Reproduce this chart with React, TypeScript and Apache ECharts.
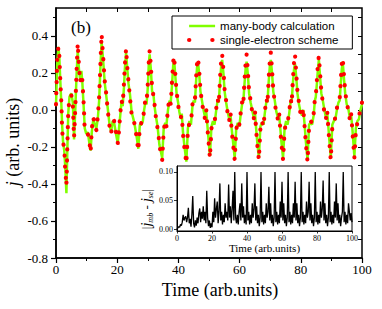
import React, { useEffect, useRef } from "react";
import * as echarts from "echarts";

// ---- main panel: time samples and current j ----
const tMain = [
  0, 0.4, 0.8, 1.1, 1.4, 1.7, 2.0, 2.3, 2.7, 3.0, 3.4, 3.7, 4.0, 4.4, 5.0, 5.5, 5.9, 6.3, 6.7, 7.1,
  7.5, 7.9, 8.3, 8.6, 9.0, 9.4, 9.9, 10.4, 10.9, 11.3, 11.7, 12.2, 12.7, 13.2, 13.7, 14.1, 14.5, 14.9,
  15.4, 15.9, 16.4, 16.9, 17.5, 18.0, 18.5, 19.0, 19.6, 20.2, 20.6, 21.0, 21.4, 21.8, 22.2, 22.5, 22.9,
  23.3, 23.7, 24.2, 24.7, 25.3, 25.8, 26.4, 26.9, 27.4, 27.9, 28.4, 28.8, 29.2, 29.6, 30.0, 30.3, 30.6,
  31.0, 31.4, 31.8, 32.2, 32.7, 33.2, 33.8, 34.2, 34.7, 35.2, 35.7, 36.1, 36.6, 37.1, 37.5, 37.9, 38.3, 38.6,
  39.0, 39.4, 39.9, 40.3, 40.8, 41.1, 41.5, 42.0, 42.6, 43.1, 43.6, 44.1, 44.6, 45.0, 45.4, 45.8, 46.1, 46.4,
  46.8, 47.2, 47.7, 48.2, 48.7, 49.1, 49.5, 49.9, 50.3, 50.8, 51.3, 51.8, 52.3, 52.8, 53.2, 53.6, 54.0, 54.3,
  54.7, 55.1, 55.6, 56.1, 56.6, 57.0, 57.4, 57.9, 58.4, 58.9, 59.4, 59.9, 60.4, 60.9, 61.2, 61.6, 62.0, 62.3,
  62.7, 63.1, 63.6, 64.1, 64.6, 65.0, 65.4, 65.8, 66.3, 66.8, 67.3, 67.8, 68.3, 68.8, 69.1, 69.5, 69.9, 70.2,
  70.6, 71.0, 71.5, 72.0, 72.5, 72.9, 73.3, 73.7, 74.2, 74.7, 75.2, 75.7, 76.2, 76.7, 77.0, 77.4, 77.8, 78.1,
  78.5, 78.9, 79.4, 79.9, 80.4, 80.8, 81.2, 81.7, 82.2, 82.7, 83.2, 83.7, 84.2, 84.6, 84.9, 85.3, 85.6, 85.9,
  86.3, 86.7, 87.2, 87.7, 88.2, 88.6, 89.0, 89.4, 89.8, 90.3, 90.8, 91.3, 91.8, 92.3, 92.7, 93.1, 93.4, 93.7,
  94.1, 94.5, 95.0, 95.5, 96.0, 96.4, 96.8, 97.2, 97.5, 98.0, 98.5, 99.0, 99.5, 100,
];

const jManyBody = [
  0.02, 0.25, 0.34, 0.28, 0.16, 0.05, -0.08, -0.17, -0.22, -0.30, -0.45, -0.22, -0.02, 0.07, 0.09, 0.04, -0.16, 0.0, 0.18, 0.32,
  0.22, 0.16, 0.21, 0.15, 0.03, -0.10, -0.13, -0.12, -0.18, -0.22, -0.12, -0.05, -0.08, -0.10, -0.04, 0.05, 0.22, 0.37,
  0.27, 0.15, 0.08, 0.01, -0.08, -0.12, -0.06, -0.07, -0.13, -0.18, -0.10, -0.03, 0.04, 0.02, 0.12, 0.22, 0.31,
  0.22, 0.14, 0.08, -0.01, -0.05, -0.09, -0.15, -0.21, -0.08, -0.08, -0.06, 0.0, 0.04, 0.03, 0.12, 0.24, 0.30,
  0.22, 0.10, 0.09, 0.02, -0.04, -0.09, -0.19, -0.22, -0.26, -0.10, -0.07, -0.08, 0.0, 0.05, 0.04, 0.13, 0.24, 0.27,
  0.18, 0.09, 0.04, -0.01, -0.05, -0.02, -0.12, -0.20, -0.28, -0.10, -0.06, -0.08, 0.02, 0.05, 0.04, 0.16, 0.23, 0.26,
  0.19, 0.10, 0.05, 0.0, -0.04, -0.01, -0.09, -0.17, -0.25, -0.09, -0.06, -0.08, -0.01, 0.05, 0.04, 0.15, 0.24, 0.27,
  0.20, 0.10, 0.04, -0.01, -0.05, -0.02, -0.10, -0.18, -0.26, -0.10, -0.07, -0.09, -0.02, 0.04, 0.04, 0.14, 0.23, 0.26,
  0.19, 0.09, 0.04, 0.0, -0.04, -0.01, -0.10, -0.18, -0.26, -0.09, -0.07, -0.08, -0.01, 0.05, 0.04, 0.15, 0.24, 0.27,
  0.20, 0.10, 0.05, -0.01, -0.04, -0.02, -0.10, -0.18, -0.26, -0.10, -0.06, -0.08, -0.02, 0.05, 0.04, 0.14, 0.22, 0.25,
  0.18, 0.09, 0.03, -0.01, -0.03, 0.0, -0.07, -0.18, -0.27, -0.08, -0.07, -0.08, -0.03, 0.05, 0.07, 0.15, 0.22, 0.27,
  0.18, 0.09, 0.05, 0.0, -0.04, -0.01, -0.09, -0.18, -0.26, -0.08, -0.06, -0.05, 0.0, 0.04, 0.05, 0.15, 0.22, 0.26,
  0.17, 0.09, 0.03, 0.01, -0.04, -0.02, -0.09, -0.18, -0.25, -0.10, -0.06, -0.05, 0.0, 0.03,
];

const jSingleElectron = [
  0.03, 0.27, 0.34, 0.29, 0.16, 0.06, -0.10, -0.18, -0.20, -0.32, -0.41, -0.20, -0.01, 0.06, 0.08, 0.03, -0.15, 0.01, 0.20, 0.36,
  0.24, 0.15, 0.19, 0.16, 0.05, -0.11, -0.12, -0.13, -0.17, -0.23, -0.10, -0.04, -0.09, -0.11, -0.03, 0.07, 0.24, 0.41,
  0.29, 0.16, 0.09, 0.0, -0.09, -0.13, -0.07, -0.06, -0.12, -0.18, -0.11, -0.02, 0.05, 0.03, 0.14, 0.24, 0.33,
  0.23, 0.15, 0.06, -0.02, -0.06, -0.08, -0.16, -0.22, -0.09, -0.07, -0.07, 0.01, 0.05, 0.04, 0.14, 0.25, 0.32,
  0.24, 0.12, 0.08, 0.03, -0.05, -0.10, -0.18, -0.24, -0.27, -0.11, -0.06, -0.09, 0.01, 0.06, 0.03, 0.15, 0.26, 0.29,
  0.19, 0.10, 0.03, -0.02, -0.04, -0.03, -0.13, -0.21, -0.29, -0.11, -0.07, -0.07, 0.03, 0.06, 0.05, 0.18, 0.25, 0.28,
  0.21, 0.11, 0.04, -0.01, -0.05, 0.0, -0.10, -0.18, -0.26, -0.10, -0.07, -0.07, 0.0, 0.06, 0.03, 0.17, 0.27, 0.30,
  0.22, 0.11, 0.05, -0.02, -0.06, -0.01, -0.11, -0.19, -0.27, -0.11, -0.06, -0.08, -0.01, 0.05, 0.03, 0.16, 0.26, 0.30,
  0.21, 0.10, 0.05, -0.01, -0.05, 0.0, -0.11, -0.19, -0.27, -0.10, -0.06, -0.09, 0.0, 0.06, 0.03, 0.17, 0.27, 0.31,
  0.22, 0.11, 0.04, -0.02, -0.05, -0.01, -0.11, -0.19, -0.27, -0.11, -0.07, -0.07, -0.01, 0.06, 0.03, 0.16, 0.26, 0.30,
  0.20, 0.10, 0.04, -0.02, -0.04, 0.01, -0.08, -0.19, -0.28, -0.09, -0.06, -0.07, -0.02, 0.06, 0.08, 0.17, 0.25, 0.29,
  0.20, 0.10, 0.04, -0.01, -0.05, 0.0, -0.10, -0.19, -0.27, -0.09, -0.07, -0.04, 0.01, 0.05, 0.06, 0.17, 0.25, 0.28,
  0.19, 0.10, 0.04, 0.0, -0.05, -0.01, -0.10, -0.19, -0.26, -0.11, -0.07, -0.04, 0.01, 0.04,
];

// ---- inset: |j_mb - j_se|, sampled every 0.5 time units from 0 to 100 ----
const insetStep = 0.5;
const jDiff = [
  0.000, 0.002, 0.004, 0.003, 0.008, 0.006, 0.012, 0.025, 0.015, 0.020,
  0.022, 0.012, 0.020, 0.037, 0.010, 0.018, 0.004, 0.025, 0.058, 0.010,
  0.003, 0.015, 0.006, 0.020, 0.010, 0.028, 0.036, 0.012, 0.030, 0.018,
  0.040, 0.015, 0.030, 0.010, 0.067, 0.020, 0.005, 0.015, 0.002, 0.010,
  0.003, 0.030, 0.012, 0.054, 0.020, 0.035, 0.048, 0.010, 0.030, 0.080,
  0.015, 0.030, 0.008, 0.025, 0.012, 0.045, 0.020, 0.030, 0.015, 0.078,
  0.020, 0.040, 0.010, 0.035, 0.067, 0.015, 0.100, 0.020, 0.010, 0.025,
  0.008, 0.030, 0.045, 0.015, 0.080, 0.020, 0.040, 0.010, 0.025, 0.008,
  0.100, 0.015, 0.030, 0.008, 0.025, 0.010, 0.045, 0.020, 0.035, 0.080,
  0.015, 0.040, 0.010, 0.025, 0.005, 0.020, 0.100, 0.012, 0.030, 0.008,
  0.025, 0.010, 0.045, 0.020, 0.030, 0.074, 0.015, 0.045, 0.010, 0.025,
  0.005, 0.020, 0.100, 0.012, 0.030, 0.008, 0.025, 0.010, 0.048, 0.020,
  0.083, 0.015, 0.045, 0.010, 0.025, 0.005, 0.020, 0.100, 0.012, 0.030,
  0.008, 0.025, 0.010, 0.045, 0.020, 0.083, 0.015, 0.045, 0.010, 0.025,
  0.005, 0.020, 0.100, 0.012, 0.030, 0.008, 0.025, 0.010, 0.048, 0.020,
  0.030, 0.083, 0.015, 0.045, 0.010, 0.025, 0.005, 0.020, 0.100, 0.012,
  0.030, 0.008, 0.025, 0.010, 0.048, 0.020, 0.035, 0.085, 0.015, 0.045,
  0.010, 0.025, 0.005, 0.020, 0.100, 0.012, 0.030, 0.008, 0.025, 0.010,
  0.048, 0.020, 0.080, 0.015, 0.045, 0.010, 0.025, 0.005, 0.020, 0.030,
  0.100, 0.012, 0.030, 0.008, 0.025, 0.010, 0.045, 0.030, 0.015, 0.028,
  0.012,
];

// ---- tick values ----
const xMainTicks = [0, 20, 40, 60, 80, 100];
const xTopTicks = [10, 20, 30, 40, 50, 60, 70, 80, 90];
const yMainTicks = [-0.8, -0.6, -0.4, -0.2, 0.0, 0.2, 0.4];
const yMinorTicks = [-0.7, -0.5, -0.3, -0.1, 0.1, 0.3, 0.5];
const yRightTicks = [-0.7, -0.6, -0.5, -0.4, -0.3, -0.2, -0.1, 0.0, 0.1, 0.2, 0.3, 0.4, 0.5];
const xInsetTicks = [0, 20, 40, 60, 80, 100];
const yInsetTicks = [0.0, 0.05, 0.1];

const seriesNames = ["many-body calculation", "single-electron scheme"];

const SERIF = '"Liberation Serif", "Times New Roman", serif';
const SANS = '"Liberation Sans", Arial, sans-serif';

export default function App() {
  const ref = useRef<HTMLDivElement>(null);

  useEffect(() => {
    document.body.style.margin = "0";
    if (!ref.current) return;
    const chart = echarts.init(ref.current, undefined, { renderer: "svg" });

    const black = "#000";
    const green = "#80ff00";
    const red = "#ff0000";
    const redDots = { color: red, width: 4.2, type: [0.1, 11], cap: "round" };
    const mainData = tMain.map((t, i) => [t, jManyBody[i]]);
    const seData = tMain.map((t, i) => [t, jSingleElectron[i]]);
    const diffData = jDiff.map((v, i) => [i * insetStep, v]);

    chart.setOption({
      animation: false,
      backgroundColor: "#fff",
      grid: [
        {
          left: 56, top: 8, width: 306, height: 250,
          show: true, borderColor: black, borderWidth: 1.5, backgroundColor: "transparent",
        },
        {
          left: 177, top: 166, width: 175, height: 65,
          show: true, borderColor: black, borderWidth: 1, backgroundColor: "#fff", z: 10,
        },
      ],
      legend: {
        data: [
          { name: seriesNames[0], lineStyle: { color: green, width: 2.5 } },
          { name: seriesNames[1], lineStyle: { color: red, width: 4.2, type: [0.2, 23], cap: "round" } },
        ],
        orient: "vertical",
        left: 172,
        top: 16,
        padding: [4, 14, 3, 15],
        itemWidth: 26,
        itemHeight: 12,
        itemGap: 2,
        borderColor: black,
        borderWidth: 1,
        borderRadius: 0,
        backgroundColor: "#fff",
        itemStyle: { opacity: 0 },
        textStyle: { fontFamily: SANS, fontSize: 11.5, color: black },
      },
      xAxis: [
        {
          gridIndex: 0, type: "value", position: "bottom", min: 0, max: 100, interval: 20,
          axisLine: { show: true, onZero: false, lineStyle: { color: black, width: 1.5 } },
          axisTick: { show: true, inside: false, length: 5, lineStyle: { color: black, width: 1.2 } },
          minorTick: { show: true, splitNumber: 2, length: 3, lineStyle: { color: black, width: 1 } },
          axisLabel: {
            customValues: xMainTicks, fontFamily: SERIF, fontSize: 13, color: black, margin: 5,
          },
          splitLine: { show: false },
          name: "Time (arb.units)", nameLocation: "middle", nameGap: 14,
          nameTextStyle: { fontFamily: SERIF, fontSize: 18, color: black, padding: [0, 0, 0, 22] },
        },
        {
          gridIndex: 0, type: "value", position: "top", min: 0, max: 100,
          axisLine: { show: false, onZero: false },
          axisTick: { show: true, inside: true, length: 4, customValues: xTopTicks, lineStyle: { color: black, width: 1 } },
          axisLabel: { show: false },
          splitLine: { show: false },
        },
        {
          gridIndex: 1, type: "value", position: "bottom", min: 0, max: 100, interval: 20, z: 11,
          axisLine: { show: true, onZero: false, lineStyle: { color: black, width: 1 } },
          axisTick: { show: true, inside: false, length: 2.5, customValues: xInsetTicks, lineStyle: { color: black, width: 0.8 } },
          axisLabel: { customValues: xInsetTicks, fontFamily: SERIF, fontSize: 8, color: black, margin: 3 },
          splitLine: { show: false },
          name: "Time (arb.units)", nameLocation: "middle", nameGap: 11,
          nameTextStyle: { fontFamily: SERIF, fontSize: 11, color: black },
        },
      ],
      yAxis: [
        {
          gridIndex: 0, type: "value", position: "left", min: -0.8, max: 0.55,
          axisLine: { show: true, onZero: false, lineStyle: { color: black, width: 1.5 } },
          axisTick: { show: true, inside: false, length: 5, customValues: yMainTicks, lineStyle: { color: black, width: 1.2 } },
          axisLabel: {
            customValues: yMainTicks, fontFamily: SERIF, fontSize: 13, color: black, margin: 8,
            formatter: (v: number) => v.toFixed(1),
          },
          splitLine: { show: false },
        },
        {
          gridIndex: 0, type: "value", position: "left", min: -0.8, max: 0.55,
          axisLine: { show: false, onZero: false },
          axisTick: { show: true, inside: false, length: 3, customValues: yMinorTicks, lineStyle: { color: black, width: 1 } },
          axisLabel: { show: false },
          splitLine: { show: false },
        },
        {
          gridIndex: 0, type: "value", position: "right", min: -0.8, max: 0.55,
          axisLine: { show: false, onZero: false },
          axisTick: { show: true, inside: true, length: 4, customValues: yRightTicks, lineStyle: { color: black, width: 1 } },
          axisLabel: { show: false },
          splitLine: { show: false },
        },
        {
          gridIndex: 1, type: "value", position: "left", min: -0.0035, max: 0.1105, z: 11,
          axisLine: { show: true, onZero: false, lineStyle: { color: black, width: 1 } },
          axisTick: { show: true, inside: false, length: 3, customValues: yInsetTicks, lineStyle: { color: black, width: 0.8 } },
          axisLabel: {
            customValues: yInsetTicks, fontFamily: SERIF, fontSize: 8, color: black, margin: 4,
            formatter: (v: number) => v.toFixed(2),
          },
          splitLine: { show: false },
        },
      ],
      graphic: [
        {
          type: "text", left: 71, top: 19, z: 20,
          style: { text: "(b)", fontFamily: SERIF, fontSize: 17, fill: black },
        },
        {
          type: "text", x: 13, y: 142, rotation: Math.PI / 2, z: 20,
          style: {
            text: "{i|j} (arb. units)",
            fontFamily: SERIF, fontSize: 18, fill: black,
            align: "center", verticalAlign: "middle",
            rich: { i: { fontFamily: SERIF, fontSize: 18, fontStyle: "italic", fill: black } },
          },
        },
        {
          type: "text", x: 146, y: 209, rotation: Math.PI / 2, z: 20,
          style: {
            text: "|{i|j}{s|mb} - {i|j}{s|se}|",
            fontFamily: SERIF, fontSize: 13, fill: black,
            align: "center", verticalAlign: "middle",
            rich: {
              i: { fontFamily: SERIF, fontSize: 14, fontStyle: "italic", fill: black, lineHeight: 16 },
              s: { fontFamily: SERIF, fontSize: 8, fontStyle: "italic", fill: black, lineHeight: 16, verticalAlign: "bottom" },
            },
          },
        },
      ],
      series: [
        {
          name: seriesNames[0], type: "line", xAxisIndex: 0, yAxisIndex: 0,
          data: mainData, symbol: "none", showSymbol: false, z: 2,
          lineStyle: { color: green, width: 2.5 },
          itemStyle: { color: green },
        },
        {
          name: seriesNames[1], type: "line", xAxisIndex: 0, yAxisIndex: 0,
          data: seData, symbol: "none", showSymbol: false, z: 3,
          lineStyle: redDots,
          itemStyle: { color: red },
        },
        {
          name: "diff", type: "line", xAxisIndex: 2, yAxisIndex: 3,
          data: diffData, symbol: "none", showSymbol: false, z: 12,
          lineStyle: { color: "#000", width: 1.3 },
        },
      ],
    });

    return () => chart.dispose();
  }, []);

  return <div ref={ref} style={{ width: 382, height: 309 }} />;
}
